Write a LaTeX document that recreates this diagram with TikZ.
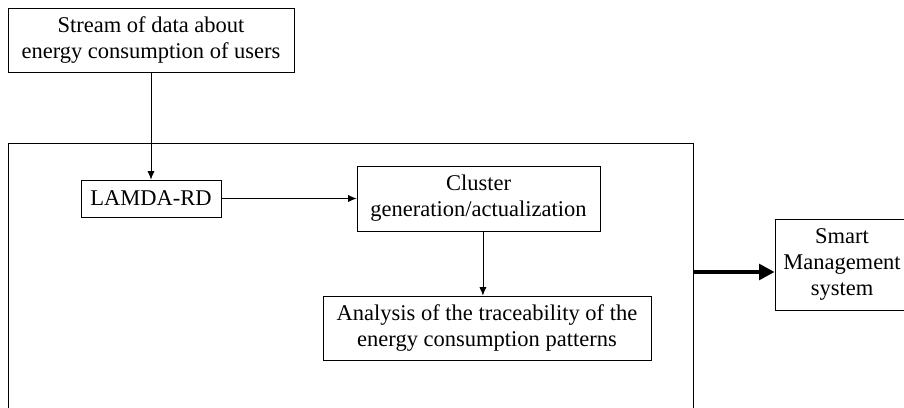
\documentclass[tikz,border=0pt]{standalone}
\usepackage{fontspec}
\setmainfont{Liberation Serif}
\usetikzlibrary{arrows.meta, positioning}

\begin{document}
\begin{tikzpicture}[x=0.025cm, y=-0.025cm,
    box/.style={draw, line width=0.6pt, align=center, inner sep=0pt,
        font=\fontsize{16}{18.4}\selectfont},
    link/.style={-{Latex[length=6pt, width=5pt]}, line width=0.5pt},
    bigarrow/.style={-{Triangle[length=11pt, width=11pt]}, line width=3pt}]
    \clip (0, 0) rectangle (904, 408);
    \useasboundingbox (0, 0) rectangle (904, 408);

    \node[box, minimum width=286*0.025cm, minimum height=64*0.025cm] (stream) at (151, 40)
        {Stream of data about\\energy consumption of users};
    \node[draw, line width=0.7pt, minimum width=685*0.025cm, minimum height=277*0.025cm,
        inner sep=0pt] (frame) at (350.5, 281.5) {};

    \node[box, minimum width=140*0.025cm, minimum height=37*0.025cm] (lamda) at (151, 198.5)
        {LAMDA-RD};
    \node[box, minimum width=243*0.025cm, minimum height=65*0.025cm] (cluster) at (478.5, 198.5)
        {Cluster\\generation/actualization};
    \node[box, minimum width=328*0.025cm, minimum height=64*0.025cm] (analysis) at (487, 328)
        {Analysis of the traceability of the\\energy consumption patterns};
    \node[box, minimum width=134*0.025cm, minimum height=91*0.025cm] (smart) at (842, 264.5)
        {Smart\\Management\\system};

    \draw[link] (stream) -- (lamda);
    \draw[link] (lamda) -- (cluster);
    \draw[link] ([xshift=0.11cm]cluster.south) -- ([xshift=0.11cm]cluster.south |- analysis.north);

    \coordinate (out) at (693, 272);
    \draw[bigarrow] (out) -- (out -| smart.west);
\end{tikzpicture}
\end{document}
